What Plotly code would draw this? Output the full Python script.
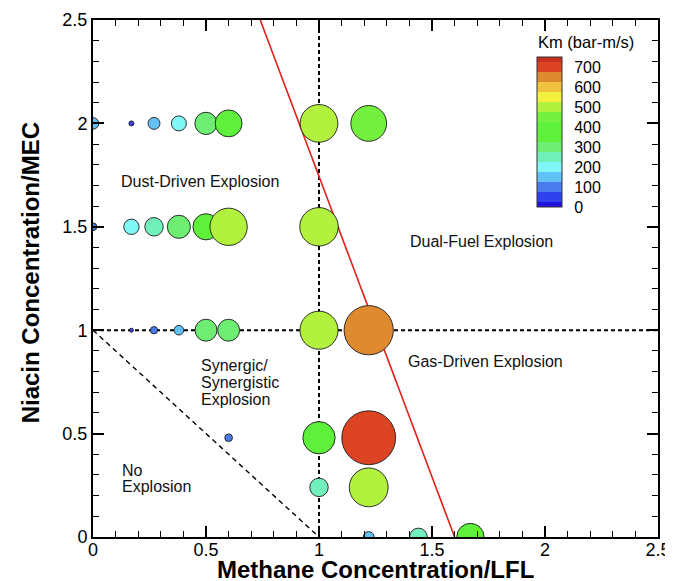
import plotly.graph_objects as go

# ---------------- data ----------------
methane_ratio = [0, 0.17, 0.27, 0.38, 0.5, 0.6, 1.0, 1.22,
                 0, 0.17, 0.27, 0.38, 0.5, 0.6, 1.0,
                 0.17, 0.27, 0.38, 0.5, 0.6, 1.0, 1.22,
                 0.6, 1.0, 1.22,
                 1.0, 1.22,
                 1.22, 1.44, 1.67]
niacin_ratio = [2, 2, 2, 2, 2, 2, 2, 2,
                1.5, 1.5, 1.5, 1.5, 1.5, 1.5, 1.5,
                1, 1, 1, 1, 1, 1, 1,
                0.48, 0.48, 0.48,
                0.24, 0.24,
                0, 0, 0]
km_values = [150, 65, 155, 195, 290, 350, 490, 465,
             100, 200, 240, 300, 340, 485, 500,
             40, 95, 125, 285, 285, 495, 640,
             100, 420, 700,
             240, 505,
             140, 230, 355]

# contour levels of the Km colour legend
km_levels = [0, 25, 75, 125, 175, 225, 275, 325, 375, 425, 475, 525, 575, 625, 675, 725, 750]
level_colors = ["#2212e0", "#3042ef", "#4a7cf0", "#62c2f6", "#80f6f6", "#72f0bc",
                "#6eef74", "#5ef03a", "#5ef03a", "#74f03e", "#b2f23e", "#f2f23e",
                "#f0c23e", "#e08a30", "#dc4424", "#c8301e"]
colorbar_ticks = [0, 100, 200, 300, 400, 500, 600, 700]

# regime boundaries
red_line_x = [0.74, 1.6]
red_line_y = [2.5, 0]
lfl_line_x = [1, 1]
lfl_line_y = [0, 2.5]
mec_line_x = [0, 2.5]
mec_line_y = [1, 1]
diag_line_x = [0, 1]
diag_line_y = [1, 0]

axis_ticks = [0, 0.5, 1, 1.5, 2, 2.5]
axis_ticktext = ["0", "0.5", "1", "1.5", "2", "2.5"]

# ---------------- figure ----------------
vmin, vmax = km_levels[0], km_levels[-1]
colorscale = []
for i, c in enumerate(level_colors):
    colorscale.append([(km_levels[i] - vmin) / (vmax - vmin), c])
    colorscale.append([(km_levels[i + 1] - vmin) / (vmax - vmin), c])

FONT = "Liberation Sans, Arial, Helvetica, sans-serif"

# plot area in the page: x 93..658, y 20..537 ; page body has an 8px margin
PW, PH = 565, 517

fig = go.Figure()

fig.add_trace(go.Scatter(x=diag_line_x, y=diag_line_y, mode="lines",
                         line=dict(color="black", width=1.4, dash="5px,4px"),
                         hoverinfo="skip", showlegend=False))
fig.add_trace(go.Scatter(x=lfl_line_x, y=lfl_line_y, mode="lines",
                         line=dict(color="black", width=2, dash="4px,3px"),
                         hoverinfo="skip", showlegend=False))
fig.add_trace(go.Scatter(x=mec_line_x, y=mec_line_y, mode="lines",
                         line=dict(color="black", width=2, dash="4px,3px"),
                         hoverinfo="skip", showlegend=False))
fig.add_trace(go.Scatter(x=red_line_x, y=red_line_y, mode="lines",
                         line=dict(color="#e0201a", width=1.6),
                         hoverinfo="skip", showlegend=False))

fig.add_trace(go.Scatter(
    x=methane_ratio, y=niacin_ratio, mode="markers",
    marker=dict(
        size=km_values, sizemode="diameter", sizeref=13, sizemin=2,
        color=km_values, colorscale=colorscale, cmin=vmin, cmax=vmax,
        line=dict(color="#1a1a1a", width=0.9), opacity=1,
        colorbar=dict(
            x=(537 - 93) / PW, xanchor="left", xpad=0,
            y=(537 - 132) / PH, yanchor="middle", ypad=0,
            len=150, lenmode="pixels", thickness=25, thicknessmode="pixels",
            outlinewidth=1, outlinecolor="#333333",
            tickvals=colorbar_ticks, ticktext=[str(v) for v in colorbar_ticks],
            ticks="outside", ticklen=9, tickcolor="rgba(0,0,0,0)",
            tickfont=dict(family=FONT, size=16, color="black"),
        ),
    ),
    cliponaxis=True, showlegend=False, hoverinfo="x+y+text",
    text=[f"Km={v}" for v in km_values],
))

# region labels
label_font = dict(family=FONT, size=16, color="#111111")
region_labels = [
    ("Dust-Driven Explosion", 0.473, 1.718, "center"),
    ("Dual-Fuel Explosion", 1.719, 1.431, "center"),
    ("Gas-Driven Explosion", 1.386, 0.848, "left"),
    ("Synergic/", 0.468, 0.827, "left"),
    ("Synergistic", 0.468, 0.745, "left"),
    ("Explosion", 0.468, 0.667, "left"),
    ("No", 0.118, 0.324, "left"),
    ("Explosion", 0.118, 0.242, "left"),
]
for txt, xx, yy, anc in region_labels:
    fig.add_annotation(x=xx, y=yy, text=txt, showarrow=False, xanchor=anc,
                       yanchor="middle", font=label_font, xref="x", yref="y")

# colorbar title
fig.add_annotation(x=(536 - 93) / PW, y=(537 - 42) / PH, xref="paper", yref="paper",
                   text="Km (bar-m/s)", showarrow=False, xanchor="left", yanchor="middle",
                   font=dict(family=FONT, size=16.5, color="black"))

# axis titles
fig.add_annotation(x=0.5, y=-(569 - 537) / PH, xref="paper", yref="paper",
                   text="<b>Methane Concentration/LFL</b>", showarrow=False,
                   xanchor="center", yanchor="middle",
                   font=dict(family=FONT, size=24, color="black"))
fig.add_annotation(x=-(93 - 30) / PW, y=0.51, xref="paper", yref="paper",
                   text="<b>Niacin Concentration/MEC</b>", showarrow=False, textangle=-90,
                   xanchor="center", yanchor="middle",
                   font=dict(family=FONT, size=24, color="black"))

axis_common = dict(
    range=[0, 2.5], tickvals=axis_ticks, ticktext=axis_ticktext,
    ticks="inside", ticklen=11, tickwidth=2, tickcolor="black",
    minor=dict(dtick=0.1, ticks="inside", ticklen=6, tickwidth=1.3, tickcolor="black", showgrid=False),
    showline=True, linewidth=2, linecolor="black", mirror="ticks",
    showgrid=False, zeroline=False, automargin=False,
    tickfont=dict(family=FONT, size=18, color="black"),
)
fig.update_xaxes(**axis_common, ticklabelstandoff=-5)
fig.update_yaxes(**axis_common)

fig.update_layout(
    width=665, height=573,
    margin=dict(l=85, r=15, t=12, b=44),
    paper_bgcolor="white", plot_bgcolor="white",
    showlegend=False,
    font=dict(family=FONT),
)

fig.write_html("out.html")
